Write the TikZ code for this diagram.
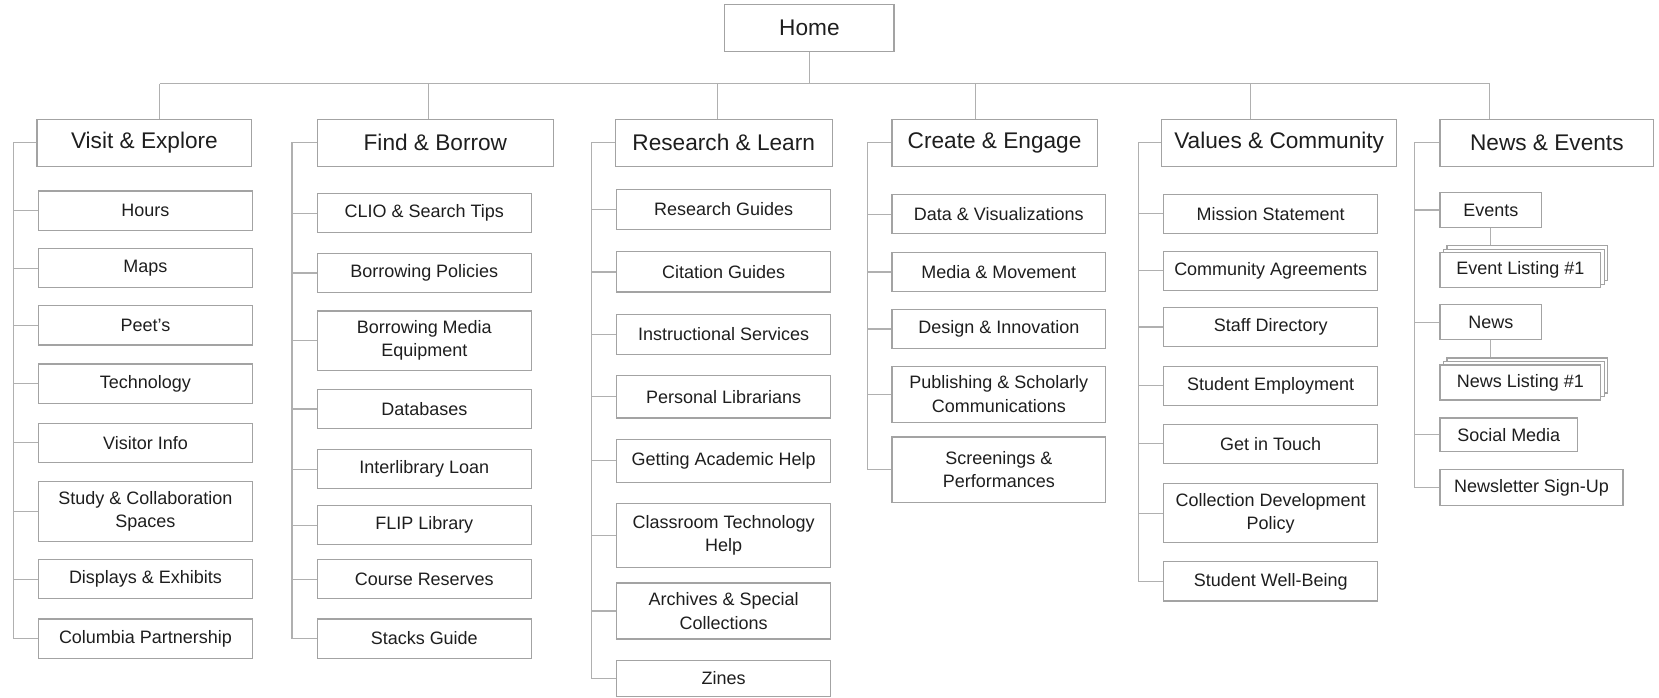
\documentclass[tikz,border=0pt]{standalone}
\usepackage{fontspec}
\setmainfont{Liberation Sans}
\usetikzlibrary{shadows}
\definecolor{boxgray}{HTML}{A3A3A3}
\definecolor{linegray}{HTML}{B0B0B0}
\definecolor{textgray}{HTML}{1E1E1E}

\tikzset{cnode/.style = {shape = rectangle,
                         draw = boxgray,
                         line width = 1.1pt,
                         text = textgray,
                         inner sep = 0pt,
                         minimum height = 37pt,
                         minimum width = 202pt,
                         align = center,
                         font = \fontsize{17}{22}\selectfont}}

\begin{document}
\begin{tikzpicture}[x = 1pt, y = -1pt,
                    hnode/.style = {cnode,
                                    minimum height = 44pt,
                                    font = \fontsize{21.4}{26}\selectfont},
                    snode/.style = {cnode,
                                    minimum height = 33pt,
                                    minimum width = 96pt},
                    stack/.style = {cnode,
                                    fill = white,
                                    minimum height = 33pt,
                                    minimum width = 152pt,
                                    copy shadow = {shadow xshift = 6.6pt, shadow yshift = 6.6pt,
                                                   draw = boxgray, fill = white, opacity = 1},
                                    copy shadow = {shadow xshift = 3.3pt, shadow yshift = 3.3pt,
                                                   draw = boxgray, fill = white, opacity = 1}},
                    link/.style = {draw = linegray, line width = 1.1pt}]
		\useasboundingbox (0,0) rectangle (1568,659);
		% top
		\node[hnode, minimum width = 160pt] (home) at (765,26.5) {Home};
		\node[hnode, minimum width = 203pt] (visit) at (136.5,135) {Visit \& Explore};
		\node[hnode, minimum width = 223pt] (find) at (411.5,135) {Find \& Borrow};
		\node[hnode, minimum width = 205pt] (research) at (684,135) {Research \& Learn};
		\node[hnode, minimum width = 194pt] (create) at (940,135) {Create \& Engage};
		\node[hnode, minimum width = 222pt] (values) at (1209,135) {Values \& Community};
		\node[hnode, minimum width = 202pt] (news) at (1462,135) {News \& Events};
		% visit
		\node[cnode] (hours) at (137.5,199) {Hours};
		\node[cnode] (maps) at (137.5,253.5) {Maps};
		\node[cnode] (peets) at (137.5,307.5) {Peet’s};
		\node[cnode] (tech) at (137.5,362.5) {Technology};
		\node[cnode] (visitor) at (137.5,418.5) {Visitor Info};
		\node[cnode, minimum height = 57pt] (study) at (137.5,483.5) {Study \& Collaboration\\Spaces};
		\node[cnode] (displays) at (137.5,547.5) {Displays \& Exhibits};
		\node[cnode] (columbia) at (137.5,603.5) {Columbia Partnership};
		% find
		\node[cnode] (clio) at (401,201.5) {CLIO \& Search Tips};
		\node[cnode] (policies) at (401,258) {Borrowing Policies};
		\node[cnode, minimum height = 56pt] (equipment) at (401,322) {Borrowing Media\\Equipment};
		\node[cnode] (databases) at (401,386.5) {Databases};
		\node[cnode] (ill) at (401,443.5) {Interlibrary Loan};
		\node[cnode] (flip) at (401,496.5) {FLIP Library};
		\node[cnode] (reserves) at (401,547.5) {Course Reserves};
		\node[cnode] (stacks) at (401,603.5) {Stacks Guide};
		% research
		\node[cnode, minimum height = 38pt] (rguides) at (684,198) {Research Guides};
		\node[cnode, minimum height = 38pt] (cguides) at (684,257) {Citation Guides};
		\node[cnode, minimum height = 38pt] (instruct) at (684,316) {Instructional Services};
		\node[cnode, minimum height = 40pt] (librarians) at (684,375) {Personal Librarians};
		\node[cnode, minimum height = 41pt] (academic) at (684,435.5) {Getting Academic Help};
		\node[cnode, minimum height = 60pt] (classroom) at (684,506) {Classroom Technology\\Help};
		\node[cnode, minimum height = 53pt] (archives) at (684,577.5) {Archives \& Special\\Collections};
		\node[cnode, minimum height = 34pt] (zines) at (684,641) {Zines};
		% create
		\node[cnode] (data) at (944,202.5) {Data \& Visualizations};
		\node[cnode] (movement) at (944,257) {Media \& Movement};
		\node[cnode] (design) at (944,311) {Design \& Innovation};
		\node[cnode, minimum height = 53pt] (publishing) at (944,372.5) {Publishing \& Scholarly\\Communications};
		\node[cnode, minimum height = 62pt] (screenings) at (944,444) {Screenings \&\\Performances};
		% values
		\node[cnode] (mission) at (1201,202) {Mission Statement};
		\node[cnode] (agreements) at (1201,256) {Community Agreements};
		\node[cnode] (staff) at (1201,309) {Staff Directory};
		\node[cnode] (employment) at (1201,364.5) {Student Employment};
		\node[cnode] (touch) at (1201,419.5) {Get in Touch};
		\node[cnode, minimum height = 56pt] (collection) at (1201,485) {Collection Development\\Policy};
		\node[cnode] (wellbeing) at (1201,549.5) {Student Well-Being};
		% news
		\node[snode] (events) at (1409,198.5) {Events};
		\node[stack] (elist) at (1437,255.5) {Event Listing \#1};
		\node[snode] (newsbox) at (1409,304.5) {News};
		\node[stack] (nlist) at (1437,361.5) {News Listing \#1};
		\node[snode, minimum width = 130pt, minimum height = 32pt] (social) at (1426,411) {Social Media};
		\node[snode, minimum width = 173pt, minimum height = 34pt] (newsletter) at (1447.5,461) {Newsletter Sign-Up};
		% bus
		\coordinate (b1) at (151,79);
		\coordinate (b2) at (405,79);
		\coordinate (b3) at (678,79);
		\coordinate (b4) at (922,79);
		\coordinate (b5) at (1182,79);
		\coordinate (b6) at (1408,79);
		\draw[link] (home) -- (home.south |- b1);
		\draw[link] (b1) -- (b6);
		\draw[link] (b1) -- (b1 |- visit.north);
		\draw[link] (b2) -- (b2 |- find.north);
		\draw[link] (b3) -- (b3 |- research.north);
		\draw[link] (b4) -- (b4 |- create.north);
		\draw[link] (b5) -- (b5 |- values.north);
		\draw[link] (b6) -- (b6 |- news.north);
		% columns
		\coordinate (l1) at (13,0);
		\coordinate (l2) at (276,0);
		\coordinate (l3) at (559,0);
		\coordinate (l4) at (820,0);
		\coordinate (l5) at (1076,0);
		\coordinate (l6) at (1337,0);
		\draw[link] (visit.west) -- (visit.west -| l1) -- (columbia.west -| l1);
		\draw[link] (find.west) -- (find.west -| l2) -- (stacks.west -| l2);
		\draw[link] (research.west) -- (research.west -| l3) -- (zines.west -| l3);
		\draw[link] (create.west) -- (create.west -| l4) -- (screenings.west -| l4);
		\draw[link] (values.west) -- (values.west -| l5) -- (wellbeing.west -| l5);
		\draw[link] (news.west) -- (news.west -| l6) -- (newsletter.west -| l6);
		\foreach \n in {hours, maps, peets, tech, visitor, study, displays, columbia}
			\draw[link] (\n.west) -- (\n.west -| l1);
		\foreach \n in {clio, policies, equipment, databases, ill, flip, reserves, stacks}
			\draw[link] (\n.west) -- (\n.west -| l2);
		\foreach \n in {rguides, cguides, instruct, librarians, academic, classroom, archives, zines}
			\draw[link] (\n.west) -- (\n.west -| l3);
		\foreach \n in {data, movement, design, publishing, screenings}
			\draw[link] (\n.west) -- (\n.west -| l4);
		\foreach \n in {mission, agreements, staff, employment, touch, collection, wellbeing}
			\draw[link] (\n.west) -- (\n.west -| l5);
		\foreach \n in {events, newsbox, social, newsletter}
			\draw[link] (\n.west) -- (\n.west -| l6);
		\draw[link] (events) -- ([yshift = 6.6pt]elist.north -| events.south);
		\draw[link] (newsbox) -- ([yshift = 6.6pt]nlist.north -| newsbox.south);
	\end{tikzpicture}
\end{document}
